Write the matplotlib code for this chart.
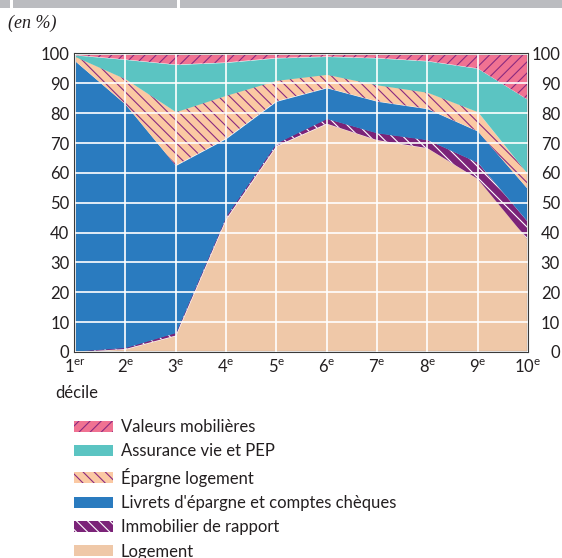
"""Composition du patrimoine par décile (stacked area, en %)."""
import matplotlib
matplotlib.use("Agg")
import matplotlib.pyplot as plt
import matplotlib.patches as mpatches
import numpy as np

plt.rcParams["font.family"] = ["Lato", "DejaVu Sans"]
plt.rcParams["mathtext.fontset"] = "custom"
plt.rcParams["mathtext.rm"] = "Lato"
plt.rcParams["hatch.linewidth"] = 0.8

# --- data (share of each asset, % per decile) ---
deciles = ["1$^{\\mathrm{er}}$", "2$^{\\mathrm{e}}$", "3$^{\\mathrm{e}}$", "4$^{\\mathrm{e}}$",
           "5$^{\\mathrm{e}}$", "6$^{\\mathrm{e}}$", "7$^{\\mathrm{e}}$", "8$^{\\mathrm{e}}$",
           "9$^{\\mathrm{e}}$", "10$^{\\mathrm{e}}$"]
logement = [0.0, 1.0, 5.5, 44.5, 69.0, 76.5, 71.0, 68.3, 58.0, 37.5]
immobilier = [0.3, 0.5, 1.0, 1.0, 1.0, 1.7, 2.4, 2.8, 5.5, 6.0]
livrets = [97.2, 81.5, 56.0, 26.0, 14.0, 10.3, 10.6, 10.4, 10.5, 11.0]
epargne_logement = [1.5, 8.5, 18.0, 14.5, 7.0, 4.5, 5.5, 5.5, 6.5, 5.0]
assurance_vie = [0.5, 6.5, 15.8, 11.0, 7.5, 6.0, 9.0, 10.5, 14.5, 25.0]
valeurs = [0.5, 2.0, 3.7, 3.0, 2.0, 1.0, 1.5, 2.5, 5.0, 15.5]

labels = ["Logement", "Immobilier de rapport", "Livrets d'épargne et comptes chèques",
          "Épargne logement", "Assurance vie et PEP", "Valeurs mobilières"]
# (facecolor, hatch colour, hatch)
styles = [
    ("#efc8a8", "#efc8a8", None),
    ("#7b2378", "white", "\\\\\\"),
    ("#2a7bbf", "#2a7bbf", None),
    ("#fbc9a3", "#8a2a80", "\\\\\\"),
    ("#5bc4c2", "#5bc4c2", None),
    ("#f07292", "#8a2a80", "///"),
]

series = np.array([logement, immobilier, livrets, epargne_logement, assurance_vie, valeurs])
tops = np.cumsum(series, axis=0)
bottoms = np.vstack([np.zeros(len(deciles)), tops[:-1]])
x = np.arange(len(deciles))

fig = plt.figure(figsize=(5.62, 5.58), dpi=100)
ax = fig.add_axes([75 / 562, 1 - 352 / 558, 453 / 562, 298.5 / 558])

handles = []
for lo, hi, (fc, hc, hatch), lab in zip(bottoms, tops, styles, labels):
    ax.fill_between(x, lo, hi, facecolor=fc, edgecolor=hc, hatch=hatch, linewidth=0)
    handles.append(mpatches.Patch(facecolor=fc, edgecolor=hc, hatch=hatch, linewidth=0, label=lab))

ax.set_xlim(0, len(deciles) - 1)
ax.set_ylim(0, 100)
ax.set_xticks(x)
ax.set_xticklabels(deciles)
ax.set_yticks(np.arange(0, 101, 10))
ax.set_axisbelow(False)
ax.grid(True, color="white", linewidth=1.2)
ax.tick_params(axis="both", length=0, labelsize=12, colors="#231f20")
ax.tick_params(axis="y", which="both", left=False, right=False, labelright=True)
ax.yaxis.set_tick_params(pad=4)
ax.tick_params(axis="x", pad=5)
# right-hand labels are right-aligned near the figure edge
for t in ax.yaxis.get_major_ticks():
    t.label2.set_horizontalalignment("right")
    t.set_pad(4)
for t in ax.yaxis.get_major_ticks():
    t.label2.set_x(1.0)
right_trans = matplotlib.transforms.blended_transform_factory(fig.transFigure, ax.transData)
for t in ax.yaxis.get_major_ticks():
    t.label2.set_transform(right_trans)
    t.label2.set_x(560 / 562)
for side in ["left", "right", "top", "bottom"]:
    ax.spines[side].set_color("#3a3a3a")
    ax.spines[side].set_linewidth(1.5)

fig.text(55 / 562, 1 - 393 / 558, "décile", fontsize=12, color="#231f20", va="center")
fig.text(8 / 562, 1 - 23 / 558, "(en %)", fontsize=13, style="italic",
         family="Liberation Serif", color="#231f20", va="center")

# grey header bar cut at the top
fig.patches.append(mpatches.Rectangle((0, 1 - 8 / 558), 1, 8 / 558, transform=fig.transFigure,
                                      facecolor="#bbbcc0", edgecolor="none"))
for gx in (10, 177):
    fig.patches.append(mpatches.Rectangle((gx / 562, 1 - 8 / 558), 3 / 562, 8 / 558,
                                          transform=fig.transFigure, facecolor="white",
                                          edgecolor="none"))

fig.legend(handles[::-1], labels[::-1], loc="upper left",
           bbox_to_anchor=(74 / 562, 1 - 419 / 558), frameon=False, fontsize=12,
           handlelength=2.35, handleheight=0.66, handletextpad=0.45, labelspacing=0.5,
           borderpad=0, borderaxespad=0, labelcolor="#231f20")

fig.savefig("out.png", dpi=100)
